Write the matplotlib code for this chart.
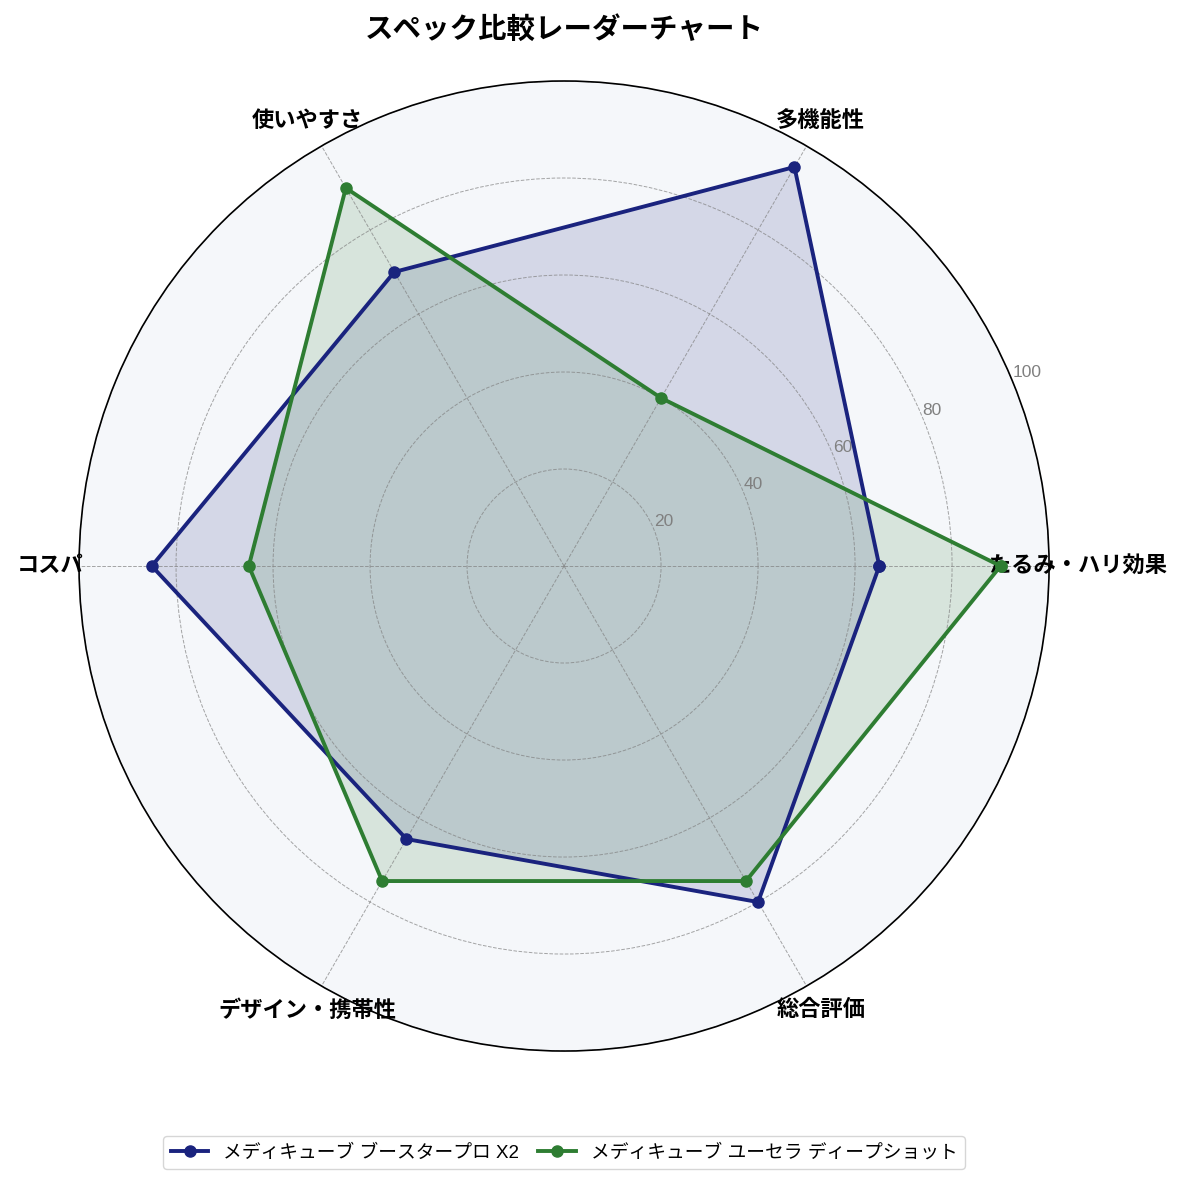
import numpy as np
import matplotlib
matplotlib.use("Agg")
import matplotlib.pyplot as plt

plt.rcParams['font.family'] = ['Liberation Sans', 'Noto Sans CJK JP', 'DejaVu Sans']

categories = ["たるみ・ハリ効果", "多機能性", "使いやすさ", "コスパ", "デザイン・携帯性", "総合評価"]
series_names = ["メディキューブ ブースタープロ X2", "メディキューブ ユーセラ ディープショット"]
values_a = [65, 95, 70, 85, 65, 80]
values_b = [90, 40, 90, 65, 75, 75]
colors = ["#1a237e", "#2e7d32"]
r_ticks = [20, 40, 60, 80, 100]

fig = plt.figure(figsize=(11.85, 11.86), dpi=100)
ax = fig.add_axes([0.0667, 0.1138, 0.8186, 0.8179], projection='polar')
ax.set_facecolor('#f5f7fa')

n = len(categories)
angles = np.linspace(0, 2 * np.pi, n, endpoint=False).tolist()
angles_c = angles + angles[:1]

for name, vals, c in zip(series_names, [values_a, values_b], colors):
    v = vals + vals[:1]
    ax.plot(angles_c, v, color=c, linewidth=2.8, marker='o', markersize=8, label=name)
    ax.fill(angles_c, v, color=c, alpha=0.15)

ax.set_ylim(0, 100)
ax.set_yticks(r_ticks)
ax.set_yticklabels([str(t) for t in r_ticks], color='gray', fontsize=12.5)
ax.set_rlabel_position(22.5)
ax.set_xticks(angles)
ax.set_xticklabels(categories, fontsize=16, fontweight='bold')
ax.tick_params(axis='x', pad=10)
ax.grid(True, color='gray', linestyle='--', linewidth=0.7, alpha=0.7)
ax.spines['polar'].set_color('black')
ax.spines['polar'].set_linewidth(1.2)

fig.text(0.476, 0.9745, "スペック比較レーダーチャート", fontsize=20.5, fontweight='bold',
         ha='center', va='center')

leg = fig.legend(loc='center', bbox_to_anchor=(0.476, 0.028), ncol=2, fontsize=13.5,
                 frameon=True, handlelength=2.0, columnspacing=1.0)
fig.savefig("out.png", dpi=100)
